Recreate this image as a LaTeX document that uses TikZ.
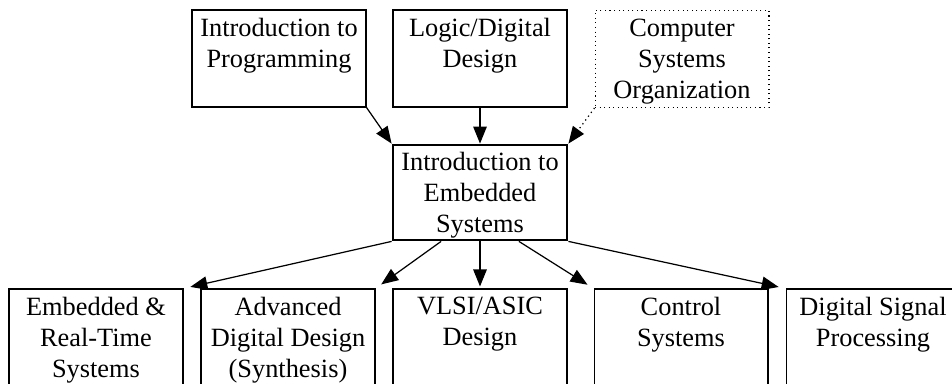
\documentclass[tikz,border=0pt]{standalone}
\usepackage{fontspec}
\setmainfont{Liberation Serif}
\usetikzlibrary{arrows.meta,calc}
\tikzset{
  course/.style={draw, line width=0.6pt, minimum width=3.48cm, minimum height=1.94cm, inner sep=0pt},
  core/.style={course, line width=1.6pt, minimum height=1.9cm},
  lower/.style={course, minimum height=2.6cm},
  title/.style={anchor=north, align=center, font=\fontsize{15}{17.6}\selectfont, inner sep=2.5pt, yshift=-2.3pt},
  link/.style={-{Triangle[length=0.34cm,width=0.27cm]}, line width=0.7pt}
}
\begin{document}
\begin{tikzpicture}[x=0.02cm,y=-0.02cm]
      \clip (0,0) rectangle (952,384);
      \node[course, label={[title]north:{Introduction to\\Programming}}] (prog) at (279,58.5) {};
      \node[course, label={[title]north:{Logic/Digital\\Design}}] (logic) at (480,58.5) {};
      \node[course, dotted, label={[title]north:{Computer\\Systems\\Organization}}] (org) at (682,59) {};
      \node[core, label={[title]north:{Introduction to\\Embedded\\Systems}}] (intro) at (480,192.5) {};
      \node[lower, label={[title]north:{Embedded \&\\Real-Time\\Systems}}] (rts) at (96,354) {};
      \node[lower, label={[title]north:{Advanced\\Digital Design\\(Synthesis)}}] (adv) at (288,354) {};
      \node[lower, label={[title]north:{VLSI/ASIC\\Design}}] (vlsi) at (480,354) {};
      \node[lower, label={[title]north:{Control\\Systems}}] (ctrl) at (681,354) {};
      \node[lower, label={[title]north:{Digital Signal\\Processing}}] (dsp) at (873,354) {};
      \draw[link] (prog.south east) -- (intro.north west);
      \draw[link] (logic.south) -- (intro.north);
      \draw[link, dotted] (org.south west) -- (intro.north east);
      \draw[link, shorten >=0.14cm] (intro.south west) -- (rts.north east);
      \draw[link, shorten >=0.14cm] ($(intro.south west)!0.28!(intro.south east)$) -- (adv.north east);
      \draw[link, shorten >=0.04cm] (intro.south) -- (vlsi.north);
      \draw[link, shorten >=0.14cm] ($(intro.south west)!0.72!(intro.south east)$) -- (ctrl.north west);
      \draw[link, shorten >=0.14cm] (intro.south east) -- (dsp.north west);
\end{tikzpicture}
\end{document}
